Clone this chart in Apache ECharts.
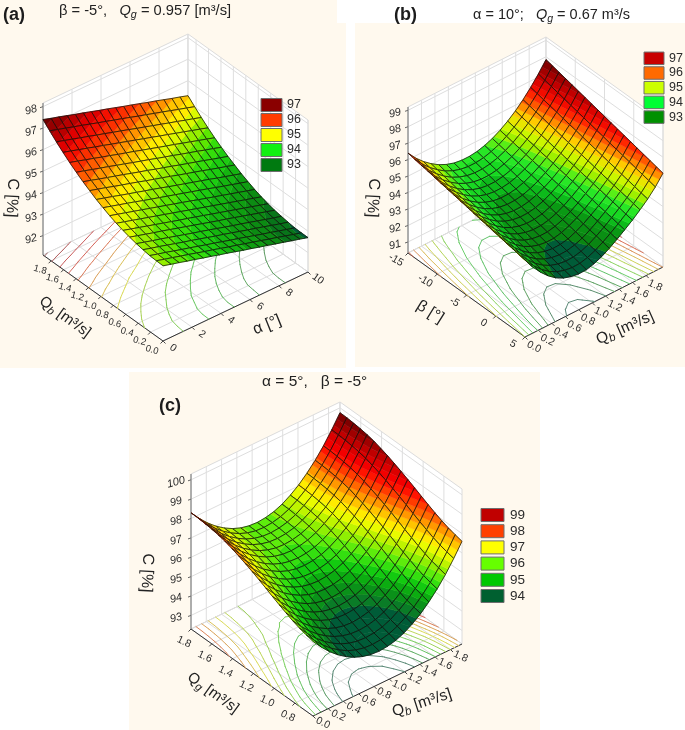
<!DOCTYPE html>
<html><head><meta charset="utf-8">
<style>html,body{margin:0;padding:0;background:#fff}#c{width:685px;height:730px;filter:blur(0.4px)}</style>
<script src="https://cdn.jsdelivr.net/npm/echarts@6/dist/echarts.min.js"></script>
</head><body><div id="c"></div>
<script>
// ---------- values ----------
const alphaTicks=[0,2,4,6,8,10];
const qbTicks=[0,0.2,0.4,0.6,0.8,1.0,1.2,1.4,1.6,1.8];
const betaTicks=[5,0,-5,-10,-15];
const qgTicks=[0.8,1.0,1.2,1.4,1.6,1.8];
const cTicksA=[92,93,94,95,96,97,98];
const cTicksB=[91,92,93,94,95,96,97,98,99];
const cTicksC=[93,94,95,96,97,98,99,100];
const legendValuesA=[97,96,95,94,93];
const legendValuesB=[97,96,95,94,93];
const legendValuesC=[99,98,97,96,95,94];
const legendColorsA=['#8a0000','#ff3c00','#ffff00','#11f011','#007a10'];
const legendColorsB=['#c80000','#ff6a00','#ccff00','#00ff33','#009000'];
const legendColorsC=['#c00000','#ff4000','#ffff00','#66ff00','#00c800','#006030'];
// rows: Qb 0 -> 1.8, columns: alpha 0 -> 10
const surfaceA=[
[94.60,94.49,94.39,94.28,94.18,94.07,93.97,93.86,93.76,93.65,93.54,93.44,93.33,93.23,93.12,93.02,92.91,92.81,92.70],
[94.61,94.50,94.40,94.29,94.19,94.08,93.97,93.87,93.76,93.65,93.55,93.44,93.34,93.23,93.12,93.02,92.91,92.80,92.70],
[94.63,94.52,94.42,94.31,94.20,94.10,93.99,93.88,93.78,93.67,93.56,93.46,93.35,93.24,93.13,93.03,92.92,92.81,92.71],
[94.68,94.57,94.47,94.36,94.25,94.14,94.04,93.93,93.82,93.71,93.61,93.50,93.39,93.28,93.18,93.07,92.96,92.85,92.75],
[94.74,94.63,94.52,94.42,94.31,94.20,94.09,93.98,93.88,93.77,93.66,93.55,93.44,93.34,93.23,93.12,93.01,92.90,92.80],
[94.82,94.71,94.60,94.49,94.39,94.28,94.17,94.06,93.95,93.84,93.73,93.62,93.52,93.41,93.30,93.19,93.08,92.97,92.86],
[94.91,94.80,94.69,94.58,94.47,94.36,94.25,94.14,94.04,93.93,93.82,93.71,93.60,93.49,93.38,93.27,93.16,93.05,92.94],
[95.02,94.91,94.80,94.69,94.58,94.47,94.36,94.25,94.14,94.03,93.92,93.81,93.70,93.59,93.48,93.37,93.26,93.15,93.04],
[95.15,95.04,94.93,94.82,94.71,94.60,94.49,94.38,94.27,94.16,94.05,93.93,93.82,93.71,93.60,93.49,93.38,93.27,93.16],
[95.30,95.19,95.08,94.97,94.86,94.74,94.63,94.52,94.41,94.30,94.19,94.08,93.97,93.86,93.74,93.63,93.52,93.41,93.30],
[95.46,95.35,95.24,95.12,95.01,94.90,94.79,94.68,94.57,94.45,94.34,94.23,94.12,94.01,93.90,93.78,93.67,93.56,93.45],
[95.65,95.54,95.43,95.31,95.20,95.09,94.98,94.86,94.75,94.64,94.53,94.41,94.30,94.19,94.08,93.96,93.85,93.74,93.63],
[95.84,95.73,95.61,95.50,95.39,95.28,95.16,95.05,94.94,94.82,94.71,94.60,94.48,94.37,94.26,94.15,94.03,93.92,93.81],
[96.06,95.95,95.83,95.72,95.61,95.49,95.38,95.26,95.15,95.04,94.92,94.81,94.70,94.58,94.47,94.36,94.24,94.13,94.01],
[96.29,96.18,96.06,95.95,95.83,95.72,95.60,95.49,95.38,95.26,95.15,95.03,94.92,94.81,94.69,94.58,94.46,94.35,94.23],
[96.54,96.43,96.31,96.20,96.08,95.97,95.85,95.74,95.62,95.51,95.39,95.28,95.16,95.05,94.93,94.82,94.70,94.59,94.47],
[96.81,96.69,96.58,96.46,96.35,96.23,96.12,96.00,95.89,95.77,95.65,95.54,95.42,95.31,95.19,95.08,94.96,94.85,94.73],
[97.10,96.98,96.87,96.75,96.64,96.52,96.40,96.29,96.17,96.06,95.94,95.82,95.71,95.59,95.48,95.36,95.24,95.13,95.01],
[97.40,97.28,97.17,97.05,96.93,96.82,96.70,96.58,96.47,96.35,96.23,96.12,96.00,95.88,95.77,95.65,95.53,95.42,95.30]
];
// rows: beta -15 -> 5, columns: Qb 0 -> 1.8
const surfaceB=[
[96.40,95.86,95.42,95.05,94.75,94.53,94.38,94.31,94.31,94.37,94.50,94.69,94.95,95.27,95.65,96.10,96.61,97.19,97.83],
[96.32,95.78,95.33,94.96,94.65,94.43,94.28,94.21,94.21,94.27,94.41,94.60,94.87,95.19,95.57,96.01,96.52,97.09,97.73],
[96.24,95.69,95.24,94.86,94.55,94.33,94.18,94.11,94.11,94.18,94.32,94.52,94.78,95.10,95.48,95.92,96.42,97.00,97.63],
[96.17,95.61,95.15,94.77,94.46,94.23,94.08,94.01,94.01,94.08,94.23,94.43,94.70,95.02,95.40,95.84,96.33,96.90,97.53],
[96.09,95.52,95.06,94.67,94.36,94.13,93.98,93.91,93.91,93.99,94.13,94.34,94.61,94.94,95.31,95.75,96.24,96.80,97.43],
[96.01,95.44,94.97,94.58,94.26,94.03,93.88,93.81,93.82,93.89,94.04,94.25,94.53,94.85,95.23,95.66,96.14,96.70,97.33],
[95.93,95.36,94.88,94.48,94.16,93.93,93.78,93.71,93.72,93.80,93.95,94.17,94.44,94.77,95.14,95.57,96.05,96.60,97.23],
[95.86,95.27,94.79,94.39,94.06,93.83,93.68,93.61,93.62,93.70,93.86,94.08,94.36,94.69,95.06,95.48,95.96,96.51,97.13],
[95.78,95.19,94.70,94.29,93.96,93.73,93.58,93.51,93.52,93.61,93.77,93.99,94.27,94.60,94.97,95.39,95.86,96.41,97.03],
[95.70,95.10,94.61,94.20,93.87,93.63,93.48,93.41,93.42,93.51,93.67,93.91,94.19,94.52,94.89,95.31,95.77,96.31,96.93],
[95.62,95.02,94.52,94.10,93.77,93.53,93.38,93.31,93.32,93.41,93.58,93.82,94.11,94.44,94.80,95.22,95.68,96.21,96.83],
[95.54,94.94,94.43,94.01,93.67,93.43,93.28,93.21,93.22,93.32,93.49,93.73,94.02,94.35,94.72,95.13,95.58,96.11,96.73],
[95.47,94.85,94.34,93.91,93.57,93.33,93.18,93.11,93.12,93.22,93.40,93.64,93.94,94.27,94.63,95.04,95.49,96.02,96.63],
[95.39,94.77,94.25,93.82,93.47,93.23,93.08,93.01,93.02,93.13,93.31,93.56,93.85,94.19,94.55,94.95,95.40,95.92,96.53],
[95.31,94.69,94.16,93.72,93.37,93.13,92.98,92.91,92.93,93.03,93.22,93.47,93.77,94.10,94.46,94.86,95.30,95.82,96.43],
[95.23,94.60,94.07,93.63,93.28,93.03,92.88,92.81,92.83,92.94,93.12,93.38,93.68,94.02,94.38,94.78,95.21,95.72,96.33],
[95.16,94.52,93.98,93.53,93.18,92.93,92.78,92.71,92.73,92.84,93.03,93.30,93.60,93.94,94.29,94.69,95.12,95.63,96.23],
[95.08,94.43,93.89,93.44,93.08,92.83,92.68,92.61,92.63,92.75,92.94,93.21,93.52,93.85,94.21,94.60,95.02,95.53,96.13],
[95.00,94.35,93.80,93.34,92.98,92.73,92.58,92.51,92.53,92.65,92.85,93.12,93.43,93.77,94.12,94.51,94.93,95.43,96.03]
];
// rows: Qg 1.8 -> min, columns: Qb 0 -> 1.8
const surfaceC=[
[98.30,97.80,97.36,96.99,96.69,96.45,96.28,96.18,96.15,96.19,96.29,96.47,96.73,97.05,97.45,97.91,98.45,99.07,99.75],
[98.29,97.79,97.35,96.98,96.68,96.44,96.27,96.17,96.14,96.18,96.28,96.46,96.72,97.04,97.44,97.90,98.44,99.06,99.74],
[98.26,97.76,97.32,96.95,96.65,96.41,96.24,96.14,96.11,96.15,96.25,96.43,96.69,97.01,97.41,97.87,98.41,99.03,99.71],
[98.22,97.72,97.28,96.91,96.61,96.37,96.20,96.10,96.07,96.11,96.21,96.39,96.65,96.97,97.37,97.83,98.37,98.99,99.67],
[98.16,97.66,97.22,96.85,96.55,96.31,96.14,96.04,96.01,96.05,96.15,96.33,96.59,96.91,97.31,97.77,98.31,98.93,99.61],
[98.08,97.58,97.14,96.77,96.47,96.23,96.06,95.96,95.93,95.97,96.07,96.25,96.51,96.83,97.23,97.69,98.23,98.85,99.53],
[97.96,97.46,97.02,96.65,96.35,96.11,95.94,95.84,95.81,95.85,95.95,96.13,96.39,96.71,97.11,97.57,98.11,98.73,99.41],
[97.83,97.33,96.89,96.52,96.22,95.98,95.81,95.71,95.68,95.72,95.82,96.00,96.26,96.58,96.98,97.44,97.98,98.60,99.28],
[97.68,97.18,96.74,96.37,96.07,95.83,95.66,95.56,95.53,95.57,95.67,95.85,96.11,96.43,96.83,97.29,97.83,98.45,99.13],
[97.52,97.02,96.58,96.21,95.91,95.67,95.50,95.40,95.37,95.41,95.51,95.69,95.95,96.27,96.67,97.13,97.67,98.29,98.97],
[97.35,96.85,96.41,96.04,95.74,95.50,95.33,95.23,95.20,95.24,95.34,95.52,95.78,96.10,96.50,96.96,97.50,98.12,98.80],
[97.17,96.67,96.23,95.86,95.56,95.32,95.15,95.05,95.02,95.06,95.16,95.34,95.60,95.92,96.32,96.78,97.32,97.94,98.62],
[96.98,96.48,96.04,95.67,95.37,95.13,94.96,94.86,94.83,94.87,94.97,95.15,95.41,95.73,96.13,96.59,97.13,97.75,98.43],
[96.80,96.30,95.86,95.49,95.19,94.95,94.78,94.68,94.65,94.69,94.79,94.97,95.23,95.55,95.95,96.41,96.95,97.57,98.25],
[96.63,96.13,95.69,95.32,95.02,94.78,94.61,94.51,94.48,94.52,94.62,94.80,95.06,95.38,95.78,96.24,96.78,97.40,98.08],
[96.47,95.97,95.53,95.16,94.86,94.62,94.45,94.35,94.32,94.36,94.46,94.64,94.90,95.22,95.62,96.08,96.62,97.24,97.92],
[96.34,95.84,95.40,95.03,94.73,94.49,94.32,94.22,94.19,94.23,94.33,94.51,94.77,95.09,95.49,95.95,96.49,97.11,97.79],
[96.24,95.74,95.30,94.93,94.63,94.39,94.22,94.12,94.09,94.13,94.23,94.41,94.67,94.99,95.39,95.85,96.39,97.01,97.69],
[96.15,95.65,95.21,94.84,94.54,94.30,94.13,94.03,94.00,94.04,94.14,94.32,94.58,94.90,95.30,95.76,96.30,96.92,97.60]
];
// ---------- styles and layout ----------
const FONT='"Liberation Sans",Arial,sans-serif';
const STEP=0.25, CONTOUR_STEP=1/3, CELLS=18;
const stopsA=[[92.75,'#005c38'],[92.9,'#0a7a14'],[93.5,'#10a810'],[94,'#20d810'],[94.4,'#60e800'],[94.7,'#a8f000'],[95,'#ffff00'],[95.5,'#ffb000'],[96,'#ff4000'],[96.5,'#f00000'],[97,'#a80000'],[97.5,'#600000']];
const stopsB=[[92.95,'#005c38'],[93.1,'#0a8412'],[93.7,'#0a9c14'],[94,'#10d020'],[94.5,'#30ee28'],[94.8,'#90ee00'],[95.2,'#d8f800'],[95.6,'#ffd000'],[96,'#ff7000'],[96.5,'#ff1000'],[97,'#d00000'],[97.8,'#700000']];
const stopsC=[[94.65,'#005c38'],[94.85,'#0a7a28'],[95.25,'#0a9c12'],[95.6,'#10c810'],[96,'#44ea10'],[96.5,'#a8f000'],[97,'#ffff00'],[97.5,'#ffb000'],[98,'#ff5000'],[98.5,'#ff0000'],[99,'#d00000'],[99.75,'#700000']];
const PANELS=[
{F:[163,341],R:[308,272],L:[43,255],H:152,zMin:91.1,zMax:98.17,m:surfaceA,rowBack:true,stops:stopsA,
 rightAxis:{ticks:alphaTicks,from:0,to:10,dec:0,off:[10,7],rot:-35,fs:10.5},
 leftAxis:{ticks:qbTicks,from:0,to:1.93,dec:1,off:[-11,9],rot:-15,fs:9.5},
 cTicks:cTicksA,cOff:[-12,3.5],legend:{x:261,w:21,y:105,pitch:15,h:13,tx:287,fs:12.5,v:legendValuesA,c:legendColorsA}},
{F:[525,337],R:[663,267],L:[408,253],H:146,zMin:90.33,zMax:99.2,m:surfaceB,rowBack:false,stops:stopsB,
 rightAxis:{ticks:qbTicks,from:0,to:2.05,dec:1,off:[9,10],rot:-25,fs:10.5},
 leftAxis:{ticks:betaTicks,from:5,to:-15,dec:0,off:[-12,7],rot:-30,fs:10.5},
 cTicks:cTicksB,cOff:[-13,3],legend:{x:644,w:20,y:58.3,pitch:14.7,h:12.5,tx:669,fs:12.5,v:legendValuesB,c:legendColorsB}},
{F:[313,716],R:[462,644],L:[191,629],H:155,zMin:92.3,zMax:100.3,m:surfaceC,rowBack:false,stops:stopsC,
 rightAxis:{ticks:qbTicks,from:0,to:1.95,dec:1,off:[10,7],rot:-25,fs:10.5},
 leftAxis:{ticks:qgTicks,from:0.626,to:1.8,dec:1,off:[-7,13],rot:-25,fs:10.5},
 cTicks:cTicksC,cOff:[-15,2.5],legend:{x:481,w:23,y:515,pitch:16.2,h:13,tx:510,fs:13.5,v:legendValuesC,c:legendColorsC}}
];
const backgrounds=[[0,0,337,23],[0,23,346,345],[355,23,330,344],[129,372,411,358]];
const titles=[
 {x:3,y:15,t:'{h|(a)}',fs:18},
 {x:59,y:11,t:'{a|β = -5°,   }{i|Q}{s|g}{a| = 0.957 [m³/s]}',fs:14.7},
 {x:394,y:15,t:'{h|(b)}',fs:18},
 {x:473,y:15,t:'{a|α = 10°;   }{i|Q}{s|g}{a| = 0.67 m³/s}',fs:14.5},
 {x:159,y:406,t:'{h|(c)}',fs:18},
 {x:262,y:382,t:'{a|α = 5°,   β = -5°}',fs:15.5}
];
const axisTitles=[
 {x:12,y:198,t:'{a|C [%]}',r:-93,fs:16},
 {x:65,y:317,t:'{a|Q}{s|b}{a| [m³/s]}',r:-36,fs:15},
 {x:267,y:325,t:'{a|α [°]}',r:22,fs:16},
 {x:373,y:198,t:'{a|C [%]}',r:-93,fs:16},
 {x:430,y:312,t:'{a|β [°]}',r:-32,fs:16},
 {x:625,y:328,t:'{a|Q}{s|b}{a| [m³/s]}',r:24,fs:15.5},
 {x:147,y:573,t:'{a|C [%]}',r:-93,fs:16},
 {x:213,y:693,t:'{a|Q}{s|g}{a| [m³/s]}',r:-36,fs:15},
 {x:422,y:703,t:'{a|Q}{s|b}{a| [m³/s]}',r:18,fs:15.5}
];
// ---------- helpers ----------
const hex=c=>[1,3,5].map(k=>parseInt(c.substr(k,2),16));
function colorAt(stops,z){
  if(z<=stops[0][0])return hex(stops[0][1]);
  for(let k=1;k<stops.length;k++){
    if(z<=stops[k][0]){
      const t=(z-stops[k-1][0])/(stops[k][0]-stops[k-1][0]),a=hex(stops[k-1][1]),b=hex(stops[k][1]);
      return a.map((v,n)=>Math.round(v+(b[n]-v)*t));
    }
  }
  return hex(stops[stops.length-1][1]);
}
const css=c=>'rgb('+c.join(',')+')';
function proj(P,api,a,b,z){
  const w=(z-P.zMin)/(P.zMax-P.zMin);
  return api.coord([P.F[0]+a*(P.R[0]-P.F[0])+b*(P.L[0]-P.F[0]),P.F[1]+a*(P.R[1]-P.F[1])+b*(P.L[1]-P.F[1])-w*P.H]);
}
function clipHalf(poly,lim,above){
  const out=[];
  for(let k=0;k<poly.length;k++){
    const p=poly[k],q=poly[(k+1)%poly.length];
    const pi=above?p.z>=lim:p.z<=lim,qi=above?q.z>=lim:q.z<=lim;
    if(pi)out.push(p);
    if(pi!==qi){const t=(lim-p.z)/(q.z-p.z);out.push({a:p.a+(q.a-p.a)*t,b:p.b+(q.b-p.b)*t,z:lim});}
  }
  return out;
}
function cellQuad(P,i,j){
  const n=CELLS,b=r=>P.rowBack?r/n:1-r/n;
  return [{a:j/n,b:b(i),z:P.m[i][j]},{a:(j+1)/n,b:b(i),z:P.m[i][j+1]},{a:(j+1)/n,b:b(i+1),z:P.m[i+1][j+1]},{a:j/n,b:b(i+1),z:P.m[i+1][j]}];
}
const pts=(P,api,poly)=>poly.map(v=>proj(P,api,v.a,v.b,v.z));
function cellList(P){
  const list=[];
  for(let i=0;i<CELLS;i++)for(let j=0;j<CELLS;j++)list.push([i,j]);
  const depth=c=>(c[1]+0.5)/CELLS+(P.rowBack?(c[0]+0.5)/CELLS:1-(c[0]+0.5)/CELLS);
  return list.sort((x,y)=>depth(y)-depth(x));
}
function surfaceSeries(P){
  return {type:'custom',coordinateSystem:'cartesian2d',silent:true,clip:false,animation:false,z:4,data:cellList(P),encode:{x:0,y:1},
    renderItem(params,api){
      const i=api.value(0),j=api.value(1),q=cellQuad(P,i,j),zs=q.map(v=>v.z);
      const lo=Math.floor(Math.min(...zs)/STEP)*STEP,hi=Math.max(...zs),ch=[];
      for(let l=lo;l<hi;l+=STEP){
        let poly=clipHalf(clipHalf(q,l,true),l+STEP,false);
        if(poly.length<3)continue;
        const col=css(colorAt(P.stops,l+STEP/2));
        ch.push({type:'polygon',shape:{points:pts(P,api,poly)},style:{fill:col,stroke:col,lineWidth:0.5}});
      }
      ch.push({type:'polygon',shape:{points:pts(P,api,q)},style:{fill:'none',stroke:'rgba(15,15,10,0.88)',lineWidth:0.85}});
      return {type:'group',children:ch};
    }};
}
function contourSeries(P){
  return {type:'custom',coordinateSystem:'cartesian2d',silent:true,clip:false,animation:false,z:3,data:cellList(P),encode:{x:0,y:1},
    renderItem(params,api){
      const i=api.value(0),j=api.value(1),q=cellQuad(P,i,j),zs=q.map(v=>v.z),ch=[];
      for(let k0=Math.ceil(Math.min(...zs)/CONTOUR_STEP);k0*CONTOUR_STEP<Math.max(...zs);k0++){
        const l=k0*CONTOUR_STEP,cross=[];
        for(let k=0;k<4;k++){
          const p=q[k],r=q[(k+1)%4];
          if((p.z<l)!==(r.z<l)){const t=(l-p.z)/(r.z-p.z);cross.push(proj(P,api,p.a+(r.a-p.a)*t,p.b+(r.b-p.b)*t,P.zMin));}
        }
        if(cross.length<2)continue;
        const c=colorAt(P.stops,l).map(v=>Math.round(v*0.5+185*0.5));
        ch.push({type:'line',shape:{x1:cross[0][0],y1:cross[0][1],x2:cross[1][0],y2:cross[1][1]},style:{stroke:css(c),lineWidth:1,lineCap:'round'}});
      }
      return {type:'group',children:ch};
    }};
}
function frameSeries(P){
  return {type:'custom',coordinateSystem:'cartesian2d',silent:true,clip:false,animation:false,z:2,data:[[0,0]],encode:{x:0,y:1},
    renderItem(params,api){
      const ch=[],floor=P.zMin,top=P.zMax,G='#dedede';
      const line=(p,q,stroke,w)=>ch.push({type:'line',shape:{x1:p[0],y1:p[1],x2:q[0],y2:q[1]},style:{stroke,lineWidth:w}});
      const poly=(arr)=>ch.push({type:'polygon',shape:{points:arr},style:{fill:'#fff',stroke:'#dcdcdc',lineWidth:1}});
      const at=(a,b,z)=>proj(P,api,a,b,z);
      poly([at(0,1,floor),at(1,1,floor),at(1,1,top),at(0,1,top)]);
      poly([at(1,1,floor),at(1,0,floor),at(1,0,top),at(1,1,top)]);
      poly([at(0,0,floor),at(1,0,floor),at(1,1,floor),at(0,1,floor)]);
      const ra=P.rightAxis,la=P.leftAxis;
      const pos=(ax,t)=>(t-ax.from)/(ax.to-ax.from);
      ra.ticks.forEach(t=>{const a=pos(ra,t);line(at(a,0,floor),at(a,1,floor),G,1);line(at(a,1,floor),at(a,1,top),G,1);
        const s=at(a,0,floor);line(s,[s[0]+2.5,s[1]+2.5],'#444',1);
        const c=api.coord([s[0]+ra.off[0],s[1]+ra.off[1]]);
        ch.push(lab(ra.dec?t.toFixed(ra.dec):String(t),c,ra.rot,ra.fs));});
      la.ticks.forEach(t=>{const b=pos(la,t);line(at(0,b,floor),at(1,b,floor),G,1);line(at(1,b,floor),at(1,b,top),G,1);
        const s=at(0,b,floor);line(s,[s[0]-2.5,s[1]+2.5],'#444',1);
        const c=api.coord([s[0]+la.off[0],s[1]+la.off[1]]);
        ch.push(lab(la.dec?t.toFixed(la.dec):String(t),c,la.rot,la.fs));});
      P.cTicks.forEach(t=>{line(at(0,1,t),at(1,1,t),G,1);line(at(1,1,t),at(1,0,t),G,1);
        const s=at(0,1,t);line(s,[s[0]-3,s[1]+1],'#666',1);
        ch.push(lab(String(t),[s[0]+P.cOff[0],s[1]+P.cOff[1]],15,11,'italic'));});
      line(at(0,1,floor),at(0,1,top),'#777',1);
      line(at(0,1,floor),at(0,0,floor),'#333',1);
      line(at(0,0,floor),at(1,0,floor),'#333',1);
      return {type:'group',children:ch};
    }};
}
function lab(text,c,rotDeg,fs,style){
  return {type:'text',x:c[0],y:c[1],rotation:rotDeg*Math.PI/180,
    style:{text,fill:'#2c2c2c',fontSize:fs,fontStyle:style||'normal',fontFamily:FONT,align:'center',verticalAlign:'middle'}};
}
function legendSeries(P){
  const L=P.legend;
  return {type:'custom',coordinateSystem:'cartesian2d',silent:true,clip:false,animation:false,z:5,
    data:L.v.map((v,k)=>[k,v]),encode:{x:0,y:1},
    renderItem(params,api){
      const k=params.dataIndex,cy=L.y+k*L.pitch;
      const o=api.coord([L.x,cy-L.h/2]);
      return {type:'group',children:[
        {type:'rect',shape:{x:o[0],y:o[1],width:L.w,height:L.h},style:{fill:L.c[k],stroke:'#6e6e6e',lineWidth:1}},
        {type:'text',x:L.tx,y:cy,style:{text:String(L.v[k]),fill:'#2c2c2c',fontSize:L.fs,fontFamily:FONT,align:'left',verticalAlign:'middle'}}
      ]};
    }};
}
const rich=fs=>({
  a:{fontSize:fs,fontFamily:FONT,fill:'#222',lineHeight:fs+4},
  i:{fontSize:fs,fontFamily:FONT,fontStyle:'italic',fill:'#222',lineHeight:fs+4},
  s:{fontSize:fs-4,fontFamily:FONT,fontStyle:'italic',fill:'#222',verticalAlign:'bottom',lineHeight:fs+4},
  h:{fontSize:fs,fontFamily:FONT,fontWeight:'bold',fill:'#1c1c1c',lineHeight:fs+4}
});
const graphics=[];
backgrounds.forEach(b=>graphics.push({type:'rect',z:-10,silent:true,shape:{x:b[0],y:b[1],width:b[2],height:b[3]},style:{fill:'#fff9ee'}}));
titles.forEach(t=>graphics.push({type:'text',z:10,silent:true,x:t.x,y:t.y,style:{text:t.t,rich:rich(t.fs),align:'left',verticalAlign:'middle'}}));
axisTitles.forEach(t=>graphics.push({type:'text',z:10,silent:true,x:t.x,y:t.y,rotation:t.r*Math.PI/180,style:{text:t.t,rich:rich(t.fs),align:'center',verticalAlign:'middle'}}));
const series=[];
PANELS.forEach(P=>series.push(frameSeries(P),contourSeries(P),surfaceSeries(P),legendSeries(P)));
const chart=echarts.init(document.getElementById('c'),null,{renderer:'canvas',width:685,height:730});
chart.setOption({animation:false,backgroundColor:'#fff',
  grid:{left:0,right:0,top:0,bottom:0},
  xAxis:{type:'value',min:0,max:685,show:false},
  yAxis:{type:'value',min:0,max:730,inverse:true,show:false},
  tooltip:{show:false},
  graphic:{elements:graphics},
  series});
</script></body></html>
